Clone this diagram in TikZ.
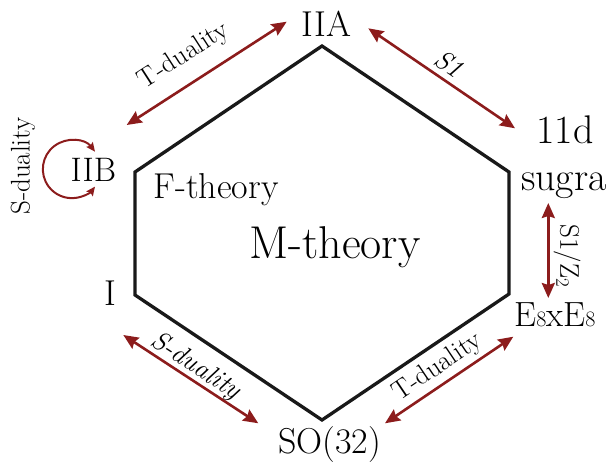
\documentclass[tikz,border=0pt]{standalone}
\usepackage{fontspec}
\usetikzlibrary{arrows.meta}
\definecolor{dualred}{RGB}{140,28,28}
\newcommand{\thsize}[1]{\fontsize{#1}{#1}\selectfont}

\begin{document}
\begin{tikzpicture}[x=1pt,y=-1pt,
	theory/.style={inner sep=0pt, anchor=base, font=\thsize{36}},
	dual/.style={dualred, line width=2.6pt, {Stealth[length=15pt,width=13pt,inset=2pt]}-{Stealth[length=15pt,width=13pt,inset=2pt]}},
	selfdual/.style={dualred, line width=2pt, {Stealth[length=9pt,width=8pt,inset=1.5pt]}-{Stealth[length=9pt,width=8pt,inset=1.5pt]}},
	duallabel/.style={inner sep=0pt, font=\thsize{27}}]
			\useasboundingbox (0,0) rectangle (611,463);
			\coordinate (hA) at (322,46);
			\coordinate (hD) at (509,172);
			\coordinate (hE) at (509,294);
			\coordinate (hS) at (322,420);
			\coordinate (hI) at (135,295);
			\coordinate (hB) at (135,172);
			\draw[line width=3.3pt, black!90] (hA) -- (hD) -- (hE) -- (hS) -- (hI) -- (hB) -- cycle;
			\node[theory] (iia) at (326.7,36) {IIA};
			\node[theory, font=\thsize{40}] (elevend) at (565,143.3) {11d};
			\node[theory, font=\thsize{40}] (sugra) at (564,190) {sugra};
			\node[theory, font=\thsize{35}] (e8e8) at (555,326.7) {E{\thsize{22}8}xE{\thsize{22}8}};
			\node[theory] (so32) at (329.7,453) {SO(32)};
			\node[theory, font=\thsize{34}] (iib) at (93.3,181.7) {IIB};
			\node[theory] (ftheory) at (216,198.3) {F-theory};
			\node[theory] (typei) at (110,305) {I};
			\node[theory, font=\thsize{46}] (mtheory) at (335,258.3) {M-theory};
			\coordinate (tB) at (126.7,125);
			\coordinate (tA) at (286.7,21.7);
			\coordinate (sA) at (368.3,28.3);
			\coordinate (sM) at (515,128.3);
			\coordinate (zM) at (548.3,203);
			\coordinate (zE) at (548.3,298);
			\coordinate (sI) at (123.3,335);
			\coordinate (sS) at (258.3,423.3);
			\coordinate (tS) at (385,423.3);
			\coordinate (tE) at (513.3,336.7);
			\coordinate (loopB) at (95,151.7);
			\draw[dual] (tB) -- (tA);
			\draw[dual] (sA) -- (sM);
			\draw[dual] (zM) -- (zE);
			\draw[dual] (sI) -- (sS);
			\draw[dual] (tS) -- (tE);
			\draw[selfdual] (loopB) arc[start angle=-37, end angle=-323, radius=29];
			\node[duallabel, rotate=32.8] (ltBA) at (184,56) {T-duality};
			\node[duallabel, rotate=-34.3, font=\thsize{27}\itshape] (lsAM) at (449,64) {S1};
			\node[duallabel, rotate=-90] (lzME) at (567,256) {S1/Z\textsubscript{2}};
			\node[duallabel, rotate=-33, font=\thsize{27}\itshape] (lsIS) at (195.5,366.5) {S-duality};
			\node[duallabel, rotate=34] (ltSE) at (437.5,367.5) {T-duality};
			\node[duallabel, rotate=90] (lsB) at (23,166) {S-duality};
		\end{tikzpicture}
\end{document}
